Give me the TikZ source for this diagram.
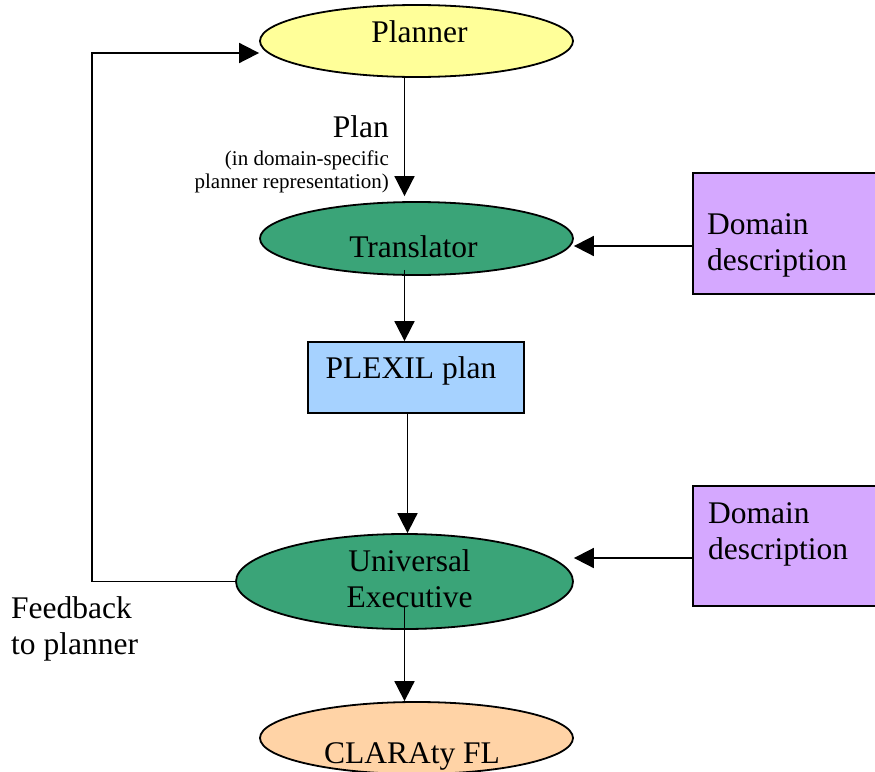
\documentclass[tikz,border=0pt]{standalone}
\usepackage{fontspec}
\setmainfont{Liberation Serif}
\usetikzlibrary{shapes.geometric, arrows.meta, positioning, calc}
\definecolor{myyellow}{RGB}{255,255,153}
\definecolor{mygreen}{RGB}{58,164,120}
\definecolor{myblue}{RGB}{166,210,255}
\definecolor{mylilac}{RGB}{213,168,255}
\definecolor{mypeach}{RGB}{255,211,166}
\tikzset{
  ellnode/.style={ellipse, draw=black, line width=1.8pt, inner sep=0pt},
  boxnode/.style={rectangle, draw=black, line width=1.8pt, inner sep=0pt},
  lbl/.style={font=\fontsize{31.5}{36}\selectfont, inner sep=0pt},
  smalllbl/.style={font=\fontsize{21}{22.5}\selectfont, inner sep=0pt},
  arrow/.style={-{Triangle[length=20pt, width=20pt]}, line width=1.8pt},
  line/.style={line width=1.8pt}
}

\begin{document}
\begin{tikzpicture}[x=1pt, y=-1pt]
  \useasboundingbox (0,0) rectangle (875,771);
  \clip (0,0) rectangle (875,771);

  % ── Main column: Planner → Translator → PLEXIL → Executive → CLARAty ──
  \node[ellnode, fill=myyellow, minimum width=313pt, minimum height=72pt] (planner) at (416.5,41) {};
  \node[ellnode, fill=mygreen, minimum width=313pt, minimum height=73pt] (trans) at (416.5,238.5) {};
  \node[boxnode, fill=myblue, minimum width=216pt, minimum height=71pt] (plexil) at (416,377.5) {};
  \node[ellnode, fill=mygreen, minimum width=337pt, minimum height=95pt] (univ) at (404.5,581.5) {};
  \node[ellnode, fill=mypeach, minimum width=313pt, minimum height=72pt] (clar) at (416.5,738) {};

  % ── Domain descriptions on the right ────────────────────────────────────
  \node[boxnode, fill=mylilac, minimum width=184pt, minimum height=121pt] (dom1) at (785,233.5) {};
  \node[boxnode, fill=mylilac, minimum width=184pt, minimum height=120pt] (dom2) at (785,546) {};

  % ── Texts (multi-line ones sit on their last baseline) ──────────────────
  \node[lbl, anchor=base] (plannertxt) at (419.5,42) {Planner};
  \node[lbl, anchor=base] (transtxt) at (413.5,257) {Translator};
  \node[lbl, anchor=base] (plexiltxt) at (411,378) {PLEXIL plan};
  \node[lbl, anchor=base, align=center] (univtxt) at (409.5,607) {Universal\\Executive};
  \node[lbl, anchor=base] (clartxt) at (412,763) {CLARAty FL};
  \node[lbl, anchor=base west, align=left] (dom1txt) at (707,270) {Domain\\description};
  \node[lbl, anchor=base west, align=left] (dom2txt) at (708,559) {Domain\\description};
  \node[lbl, anchor=base west, align=left] (fbtxt) at (11,654) {Feedback\\to planner};
  \node[lbl, anchor=base east] (plantxt) at (389,137) {Plan};
  \node[smalllbl, anchor=base east, align=right] (plansub) at (389,188) {(in domain-specific\\planner representation)};

  % ── Plan flow ────────────────────────────────────────────────────────────
  \coordinate (col) at (404.5,0);
  \coordinate (col2) at (407.5,0);
  \coordinate (utap) at (404.5,607);
  \draw[arrow, shorten >=5pt] (planner.south -| col) -- (trans.north -| col);
  \draw[arrow] ([yshift=6pt]trans.south -| col) -- (plexil.north -| col);
  \draw[arrow] (plexil.south -| col2) -- (univ.north -| col2);
  \draw[arrow] (utap) -- (clar.north -| col);

  % ── Domain inputs ───────────────────────────────────────────────────────
  \draw[arrow] ([yshift=-12.5pt]dom1.west) -- ([yshift=-12.5pt]dom1.west -| trans.east);
  \draw[arrow] ([yshift=-12pt]dom2.west) -- ([yshift=-12pt]dom2.west -| univ.east);

  % ── Feedback loop ───────────────────────────────────────────────────────
  \coordinate (fbk) at (92,53);
  \draw[arrow] (univ.west) -| (fbk) -- (fbk -| planner.west);
\end{tikzpicture}
\end{document}
